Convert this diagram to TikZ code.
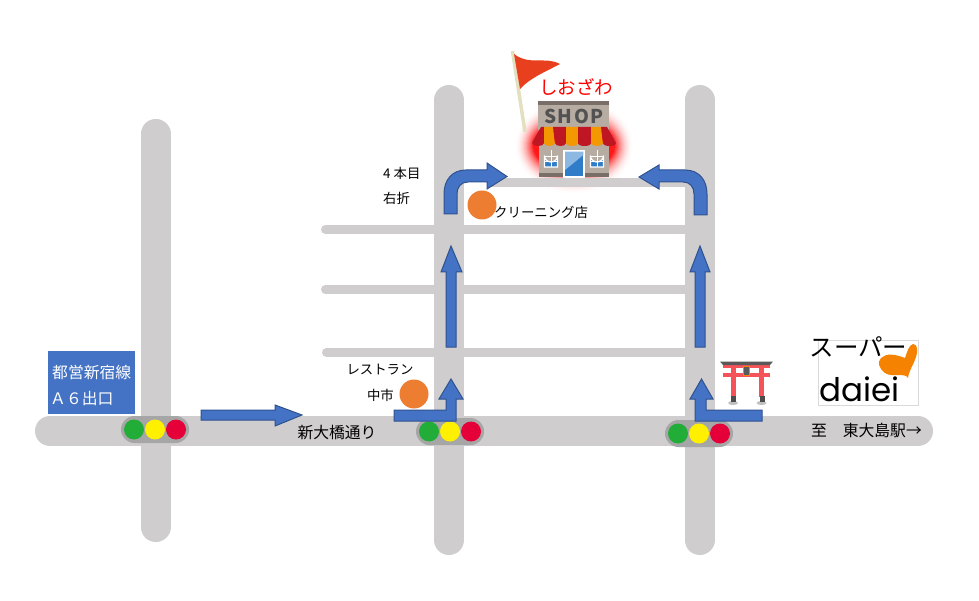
\documentclass[tikz,border=0pt]{standalone}
\usepackage{fontspec}
\setmainfont{Noto Sans CJK JP}
\newfontfamily\logofont{Poppins}
\usetikzlibrary{positioning}
\definecolor{roadgray}{HTML}{CFCDCD}
\definecolor{arrowblue}{HTML}{4472C4}
\definecolor{arrowline}{HTML}{2F528F}
\definecolor{spotorange}{HTML}{ED7D31}
\definecolor{lampgreen}{HTML}{22AC38}
\definecolor{lampyellow}{HTML}{FFF000}
\definecolor{lampred}{HTML}{E60039}
\definecolor{shoptan}{HTML}{B7ACA2}
\definecolor{shopdark}{HTML}{7A6F68}
\definecolor{shopblue}{HTML}{2F7DC8}
\definecolor{awningred}{HTML}{BE1622}
\definecolor{awningorange}{HTML}{F39800}
\definecolor{flagred}{HTML}{E8401F}
\definecolor{polecream}{HTML}{E3E0C0}
\definecolor{toriired}{HTML}{F4535A}
\definecolor{logoorange}{HTML}{F58200}
\tikzset{
  road/.style={line width=30pt, roadgray, line cap=round},
  sideroad/.style={line width=9pt, roadgray, line cap=round},
  blockarrow/.style={fill=arrowblue, draw=arrowline, line width=1pt, line join=miter},
  label/.style={font=\fontsize{13.4}{15}\selectfont, inner sep=0pt},
  biglabel/.style={font=\fontsize{15.8}{17}\selectfont, inner sep=0pt},
  spot/.style={circle, fill=spotorange, minimum size=29pt, inner sep=0pt},
  signalbase/.style={fill=black!35, rounded corners=13.5pt},
  lamp/.style={circle, minimum size=20pt, inner sep=0pt},
  windowpane/.style={fill=shopblue, draw=white, line width=1.2pt}
}
\begin{document}
\begin{tikzpicture}[x=1pt,y=-1pt]
    \useasboundingbox [fill=white] (0,0) rectangle (979,601);
    \foreach \g in {0,5,...,95} {
      \pgfmathsetmacro{\p}{\g*\g/100}
      \fill [red!\p!white] (574,146) ellipse [x radius={60-\g*0.2}, y radius={49-\g*0.25}];
    }
    \draw [road] (155.5,134) -- (155.5,527);
    \draw [road] (449,100) -- (449,540);
    \draw [road] (699.5,100) -- (699.5,540);
    \draw [road] (50,431) -- (918,431);
    \draw [sideroad] (325.5,229.5) -- (690,229.5);
    \draw [sideroad] (325.5,289.5) -- (690,289.5);
    \draw [sideroad] (326.5,352.5) -- (690,352.5);
    \fill [roadgray] (490,178) rectangle (690,187);

    \fill [shoptan] (538,101) rectangle (609,130);
    \fill [shopdark] (538,101) rectangle (609,105);
    \node (shopsign) [font=\fontsize{19}{19}\bfseries\selectfont, text=black!68, inner sep=0pt] at (574,116) {S\kern1.5pt H\kern1.5pt O\kern1.5pt P};
    \fill [shoptan] (539,143) rectangle (609,173);
    \fill [shopdark] (539,173) rectangle (609,177);
    \draw [windowpane] (544.5,167) -- (544.5,155.5) arc [start angle=180, end angle=0, radius=6.5] -- (557.5,167) -- cycle;
    \draw [windowpane] (590.5,167) -- (590.5,155.5) arc [start angle=180, end angle=0, radius=6.5] -- (603.5,167) -- cycle;
    \draw [white, line width=0.8pt] (551,150) -- (551,167) (544.5,156) -- (557.5,156) (544.5,161.5) -- (557.5,161.5);
    \draw [white, line width=0.8pt] (597,150) -- (597,167) (590.5,156) -- (603.5,156) (590.5,161.5) -- (603.5,161.5);
    \draw [windowpane] (564,177) -- (564,151) -- (584,151) -- (584,177) -- cycle;
    \fill [shopblue!55!white] (565,151.7) -- (583.3,151.7) -- (583.3,155) -- (565,170) -- cycle;
    \foreach \ta/\ba/\tb/\bb/\c in {541/532/544/544/awningred, 544/544/553/555/awningorange, 553/555/566/566/awningred, 566/566/578/578/awningorange, 578/578/591/591/awningred, 591/591/601/603/awningorange, 601/603/607/616/awningred} {
      \fill [\c] (\ta,127) -- (\ba,143) .. controls (\ba,147) and (\bb,147) .. (\bb,143) -- (\tb,127) -- cycle;
    }

    \draw [line width=3.5pt, polecream] (512.5,51) -- (525,132);
    \fill [flagred] (514,54) .. controls (530,66) and (545,56) .. (560,64) .. controls (545,72) and (530,78) .. (520,89) -- cycle;
    \node (shopname) [font=\fontsize{18.5}{20}\selectfont, text=red, inner sep=0pt] at (576,87) {しおざわ};

    \fill [black!25] (733,403) ellipse [x radius=5, y radius=2];
    \fill [black!25] (761.5,403) ellipse [x radius=5, y radius=2];
    \fill [toriired] (731,364) rectangle (736,397);
    \fill [toriired] (759,364) rectangle (764,397);
    \fill [black!70] (730.5,396) rectangle (735.5,402);
    \fill [black!70] (759.5,396) rectangle (764.5,402);
    \fill [toriired] (723,373) rectangle (770,377);
    \fill [toriired] (723,364) rectangle (770,368);
    \fill [black!65] (720,361.5) -- (773,361.5) -- (770,365) -- (723,365) -- cycle;
    \draw [fill=black!65, draw=orange, line width=0.8pt] (743.5,366) rectangle (749.5,375);

    \node (logobox) [draw=black!15, line width=0.8pt, minimum width=100pt, minimum height=65pt, inner sep=0pt] at (868,372.5) {};
    \node (superlabel) [font=\fontsize{24.5}{26}\selectfont, inner sep=0pt] at (858.5,347) {スーパー};
    \node (logotext) [font=\fontsize{32.5}{34}\logofont, inner sep=0pt, anchor=base west] at (819,401) {daiei};
    \fill [logoorange] (908,378) .. controls (905,372) and (892,378) .. (885,373) .. controls (879,369) and (877,362) .. (881,358) .. controls (886,353) and (895,354) .. (905,358) .. controls (907,352) and (909,345) .. (913,344) .. controls (918,344) and (918,352) .. (916,357) .. controls (914,364) and (909,370) .. (908,378) -- cycle;

    \fill [arrowblue] (48,351) rectangle (135,414);
    \node (stationline) [biglabel, text=white, anchor=west] at (52,373) {都営新宿線};
    \node (stationexit) [biglabel, text=white, anchor=west] at (50,399) {Ａ６出口};

    \foreach \n/\x/\y in {one/155/429.5, two/450/431.5, three/699/433.5} {
      \fill [signalbase] ({\x-34},{\y-13.5}) rectangle ({\x+34},{\y+13.5});
      \node (green\n) [lamp, fill=lampgreen] at ({\x-21},\y) {};
      \node (yellow\n) [lamp, fill=lampyellow] at (\x,\y) {};
      \node (red\n) [lamp, fill=lampred] at ({\x+21},\y) {};
    }

    \node (spotnoodle) [spot] at (414,394) {};
    \node (spotclean) [spot] at (482,205) {};

    \draw [blockarrow] (201,410) -- (275,410) -- (275,405) -- (302,415) -- (275,426) -- (275,420) -- (201,420) -- cycle;
    \draw [blockarrow] (394,410) -- (446,410) -- (446,399) -- (439,399) -- (451,379) -- (463,399) -- (456,399) -- (456,421) -- (394,421) -- cycle;
    \draw [blockarrow] (446,347) -- (446,272) -- (441,272) -- (451,246) -- (462,272) -- (456,272) -- (456,347) -- cycle;
    \draw [blockarrow] (695,347) -- (695,272) -- (690,272) -- (700,246) -- (710,272) -- (705,272) -- (705,347) -- cycle;
    \draw [blockarrow] (762,410) -- (706,410) -- (706,399) -- (713,399) -- (701.5,379) -- (690,399) -- (695,399) -- (695,421) -- (762,421) -- cycle;
    \draw [blockarrow] (444,214) -- (444,194) .. controls (444,180) and (452,170) .. (466,170) -- (487,170) -- (487,163) -- (507,176.5) -- (487,189) -- (487,182) -- (468,182) .. controls (461,182) and (457,187) .. (457,194) -- (457,214) -- cycle;
    \draw [blockarrow] (707,215) -- (707,194) .. controls (707,180) and (699,170) .. (685,170) -- (659,170) -- (659,165) -- (639,177) -- (659,189) -- (659,182) -- (683,182) .. controls (690,182) and (694,187) .. (694,194) -- (694,215) -- cycle;

    \node (restlabel) [label] at (380,370) {レストラン};
    \node (restname) [label, anchor=east] at (394,395) {中市};
    \node (turnnth) [label, anchor=west] at (383,173) {4 本目};
    \node (turnright) [label, anchor=west] at (383,198) {右折};
    \node (cleanlabel) [label, anchor=west] at (494,212) {クリーニング店};
    \node (streetlabel) [biglabel] at (337,433) {新大橋通り};
    \node (eastlabel) [biglabel, anchor=west] at (811,430) {至　東大島駅→};
\end{tikzpicture}
\end{document}
